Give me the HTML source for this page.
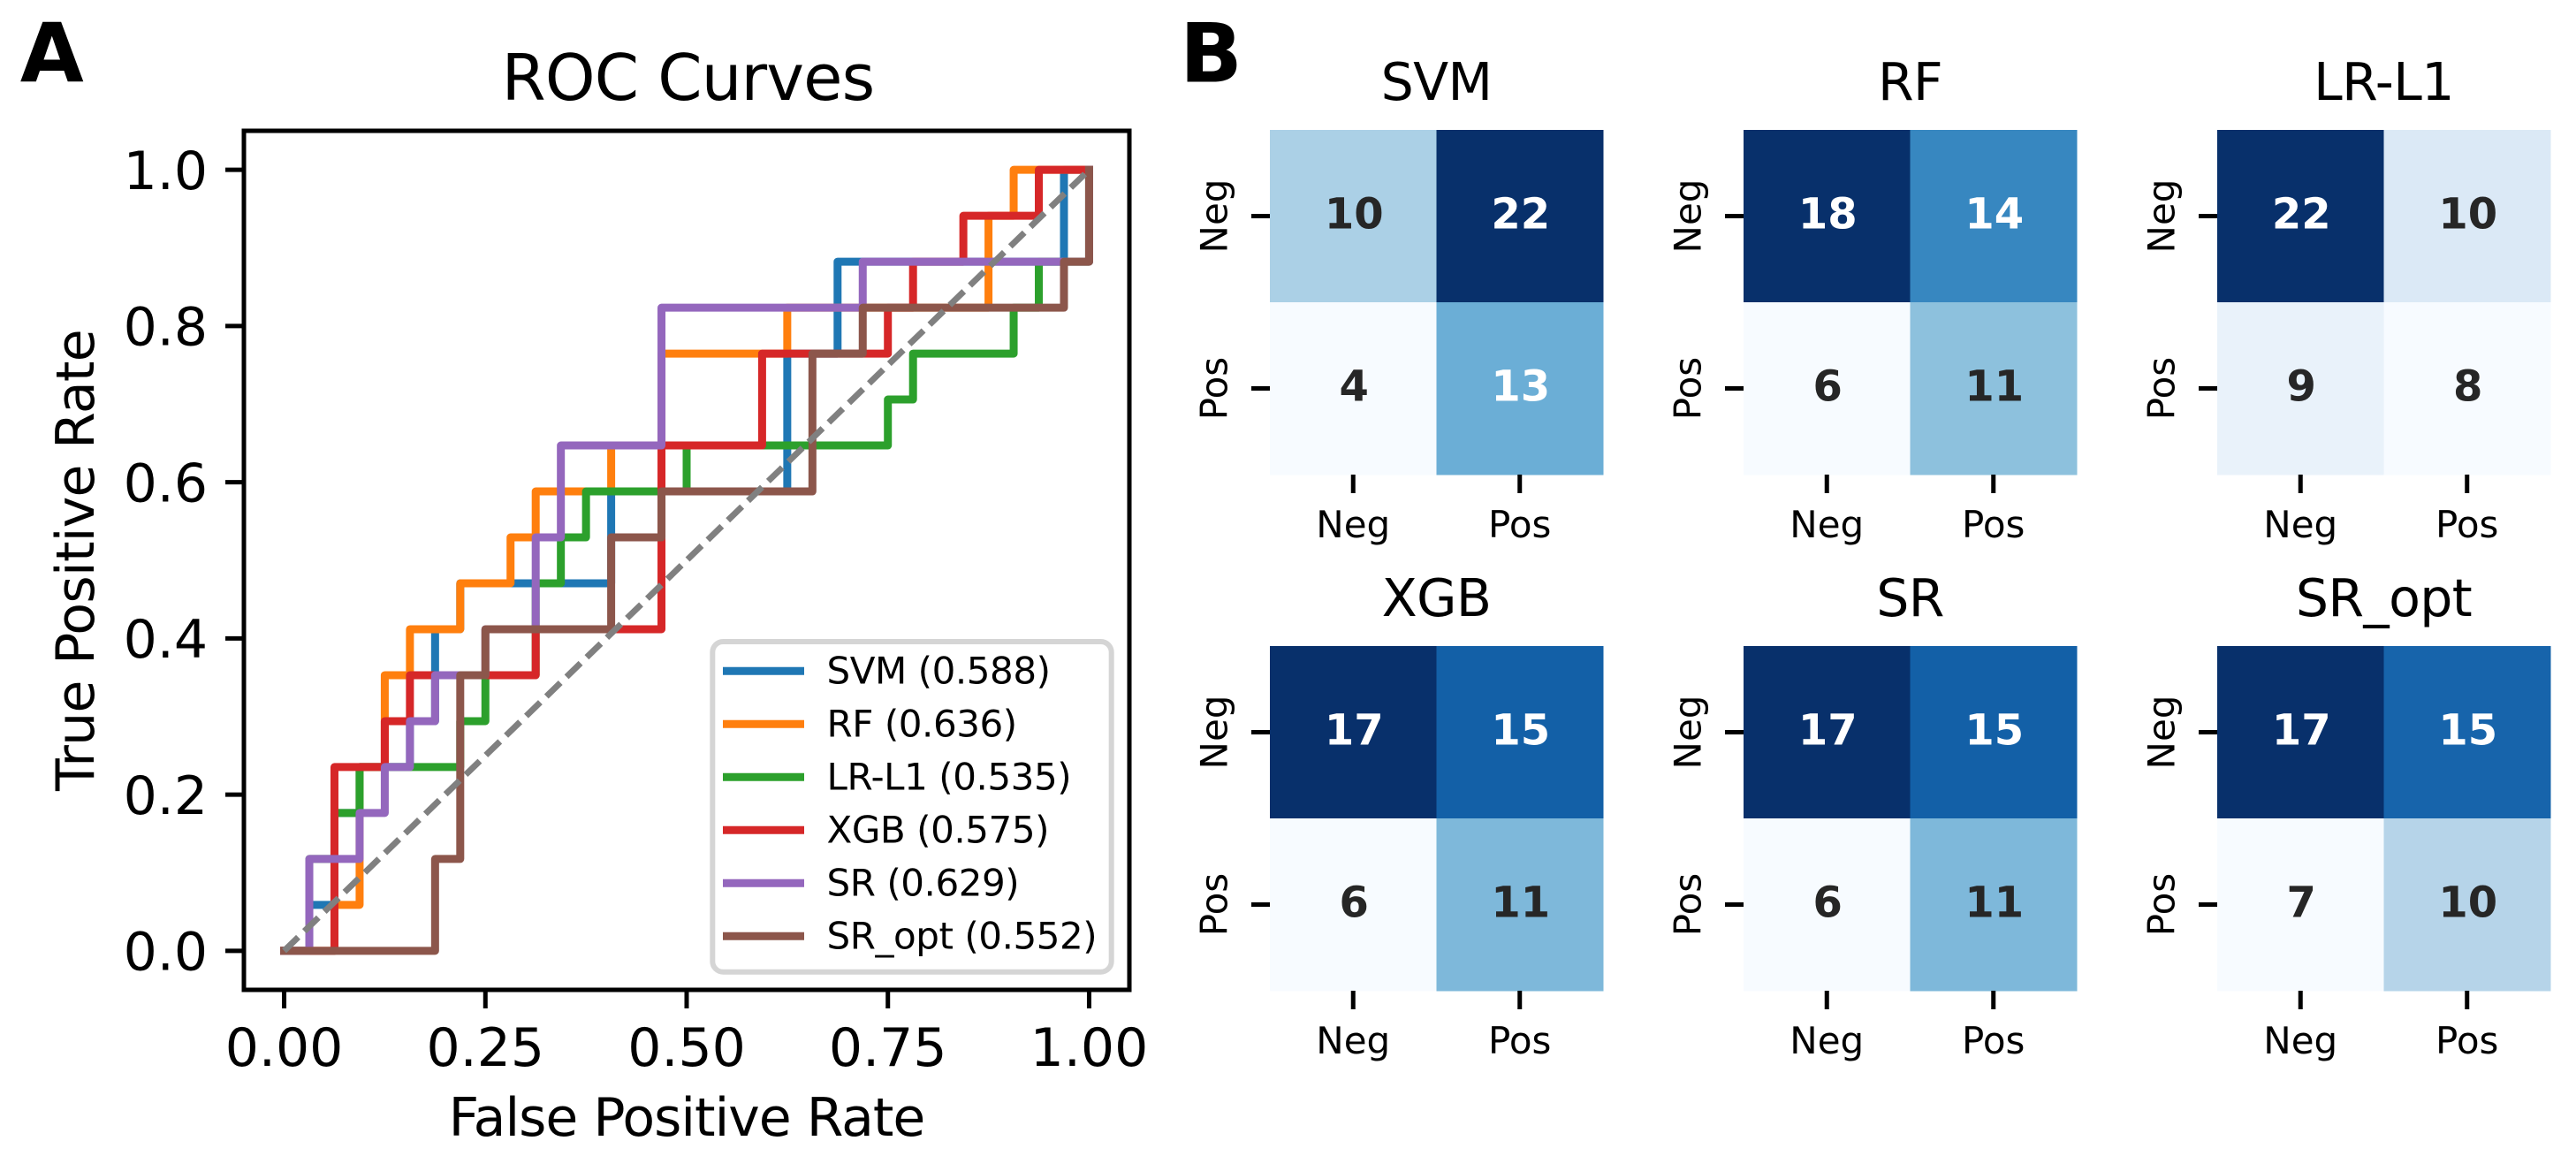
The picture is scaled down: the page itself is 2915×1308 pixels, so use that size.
<!DOCTYPE html>
<html lang="en">
<head>
<meta charset="utf-8">
<title>ROC Curves and Confusion Matrices</title>
<style>
  html, body { margin: 0; padding: 0; background: #ffffff; }
  svg { display: block; }
  text { font-family: "DejaVu Sans", "Liberation Sans", sans-serif; fill: #000000; }
</style>
</head>
<body>
<svg id="figure" xmlns="http://www.w3.org/2000/svg" width="2915" height="1308" viewBox="0 0 2915 1308">
  <rect x="0" y="0" width="2915" height="1308" fill="#ffffff"/>
  <text x="22.7" y="92.5" font-size="93" font-weight="700">A</text>
  <text x="1335" y="92.5" font-size="93" font-weight="700">B</text>
  <g id="roc-panel">
    <text x="778.5" y="113" font-size="72" letter-spacing="-0.8" text-anchor="middle">ROC Curves</text>
    <text x="777" y="1285" font-size="60" letter-spacing="-1" text-anchor="middle">False Positive Rate</text>
    <text x="106" y="634" font-size="60" letter-spacing="-0.7" text-anchor="middle" transform="rotate(-90 106 634)">True Positive Rate</text>
  </g>
  <g id="heatmap-panel"></g>
</svg>
<script>
// ROC chart data: false positive rate / true positive rate vertices per model
const rocModelNames = ['SVM', 'RF', 'LR-L1', 'XGB', 'SR', 'SR_opt'];
const rocAucValues = [0.588, 0.636, 0.535, 0.575, 0.629, 0.552];
const xTickLabels = ['0.00', '0.25', '0.50', '0.75', '1.00'];
const yTickLabels = ['0.0', '0.2', '0.4', '0.6', '0.8', '1.0'];

const svmFpr = [0, 0.03125, 0.03125, 0.0625, 0.0625, 0.09375, 0.09375, 0.15625, 0.15625, 0.1875, 0.1875, 0.21875, 0.21875, 0.40625, 0.40625, 0.625, 0.625, 0.6875, 0.6875, 0.96875, 0.96875, 1];
const svmTpr = [0, 0, 0.0588, 0.0588, 0.1765, 0.1765, 0.2353, 0.2353, 0.2941, 0.2941, 0.4118, 0.4118, 0.4706, 0.4706, 0.5882, 0.5882, 0.7647, 0.7647, 0.8824, 0.8824, 1, 1];

const rfFpr = [0, 0.0625, 0.0625, 0.09375, 0.09375, 0.125, 0.125, 0.15625, 0.15625, 0.21875, 0.21875, 0.28125, 0.28125, 0.3125, 0.3125, 0.40625, 0.40625, 0.46875, 0.46875, 0.625, 0.625, 0.875, 0.875, 0.90625, 0.90625, 1];
const rfTpr = [0, 0, 0.0588, 0.0588, 0.2353, 0.2353, 0.3529, 0.3529, 0.4118, 0.4118, 0.4706, 0.4706, 0.5294, 0.5294, 0.5882, 0.5882, 0.6471, 0.6471, 0.7647, 0.7647, 0.8235, 0.8235, 0.9412, 0.9412, 1, 1];

const lrFpr = [0, 0.03125, 0.03125, 0.0625, 0.0625, 0.09375, 0.09375, 0.21875, 0.21875, 0.25, 0.25, 0.3125, 0.3125, 0.34375, 0.34375, 0.375, 0.375, 0.5, 0.5, 0.75, 0.75, 0.78125, 0.78125, 0.90625, 0.90625, 0.9375, 0.9375, 1, 1];
const lrTpr = [0, 0, 0.1176, 0.1176, 0.1765, 0.1765, 0.2353, 0.2353, 0.2941, 0.2941, 0.3529, 0.3529, 0.4706, 0.4706, 0.5294, 0.5294, 0.5882, 0.5882, 0.6471, 0.6471, 0.7059, 0.7059, 0.7647, 0.7647, 0.8235, 0.8235, 0.8824, 0.8824, 1];

const xgbFpr = [0, 0.0625, 0.0625, 0.125, 0.125, 0.15625, 0.15625, 0.3125, 0.3125, 0.46875, 0.46875, 0.59375, 0.59375, 0.75, 0.75, 0.78125, 0.78125, 0.84375, 0.84375, 0.9375, 0.9375, 1];
const xgbTpr = [0, 0, 0.2353, 0.2353, 0.2941, 0.2941, 0.3529, 0.3529, 0.4118, 0.4118, 0.6471, 0.6471, 0.7647, 0.7647, 0.8235, 0.8235, 0.8824, 0.8824, 0.9412, 0.9412, 1, 1];

const srFpr = [0, 0.03125, 0.03125, 0.09375, 0.09375, 0.125, 0.125, 0.15625, 0.15625, 0.1875, 0.1875, 0.25, 0.25, 0.3125, 0.3125, 0.34375, 0.34375, 0.46875, 0.46875, 0.71875, 0.71875, 1, 1];
const srTpr = [0, 0, 0.1176, 0.1176, 0.1765, 0.1765, 0.2353, 0.2353, 0.2941, 0.2941, 0.3529, 0.3529, 0.4118, 0.4118, 0.5294, 0.5294, 0.6471, 0.6471, 0.8235, 0.8235, 0.8824, 0.8824, 1];

const srOptFpr = [0, 0.1875, 0.1875, 0.21875, 0.21875, 0.25, 0.25, 0.40625, 0.40625, 0.46875, 0.46875, 0.65625, 0.65625, 0.71875, 0.71875, 0.96875, 0.96875, 1, 1];
const srOptTpr = [0, 0, 0.1176, 0.1176, 0.3529, 0.3529, 0.4118, 0.4118, 0.5294, 0.5294, 0.5882, 0.5882, 0.7647, 0.7647, 0.8235, 0.8235, 0.8824, 0.8824, 1];

const chanceFpr = [0, 1];
const chanceTpr = [0, 1];

// Confusion matrix data (row = actual, column = predicted)
const classLabels = ['Neg', 'Pos'];
const svmMatrix = [[10, 22], [4, 13]];
const rfMatrix = [[18, 14], [6, 11]];
const lrMatrix = [[22, 10], [9, 8]];
const xgbMatrix = [[17, 15], [6, 11]];
const srMatrix = [[17, 15], [6, 11]];
const srOptMatrix = [[17, 15], [7, 10]];

const SVG_NS = 'http://www.w3.org/2000/svg';
const rocFprSeries = [svmFpr, rfFpr, lrFpr, xgbFpr, srFpr, srOptFpr];
const rocTprSeries = [svmTpr, rfTpr, lrTpr, xgbTpr, srTpr, srOptTpr];
const rocColors = ['#1f77b4', '#ff7f0e', '#2ca02c', '#d62728', '#9467bd', '#8c564b'];
const heatmapMatrices = [svmMatrix, rfMatrix, lrMatrix, xgbMatrix, srMatrix, srOptMatrix];
const blueStops = [[247,251,255],[222,235,247],[198,219,239],[158,202,225],[107,174,214],[66,146,198],[33,113,181],[8,81,156],[8,48,107]];

function slug(s) { return s.toLowerCase().replace(/[^a-z0-9]+/g, '-'); }

function make(tag, attrs, parent, content) {
  const el = document.createElementNS(SVG_NS, tag);
  Object.keys(attrs).forEach(function (k) { el.setAttribute(k, attrs[k]); });
  if (content !== undefined) el.textContent = content;
  parent.appendChild(el);
  return el;
}

// ---------- ROC chart ----------
const axLeft = 276, axRight = 1278, axTop = 148, axBottom = 1120;
const xPad = (axRight - axLeft) / 22, yPad = (axBottom - axTop) / 22;
function xScale(v) { return axLeft + xPad + v * (axRight - axLeft - 2 * xPad); }
function yScale(v) { return axBottom - yPad - v * (axBottom - axTop - 2 * yPad); }
function linePath(xs, ys) {
  return xs.map(function (x, i) { return (i ? 'L' : 'M') + xScale(x).toFixed(2) + ' ' + yScale(ys[i]).toFixed(2); }).join(' ');
}

const rocPanel = document.getElementById('roc-panel');

rocModelNames.forEach(function (name, i) {
  const curve = make('path', { d: linePath(rocFprSeries[i], rocTprSeries[i]), fill: 'none', stroke: rocColors[i], 'stroke-width': 9, 'stroke-linejoin': 'round', 'stroke-linecap': 'square' }, rocPanel);
  
  
});

const chanceLine = make('path', { d: linePath(chanceFpr, chanceTpr), fill: 'none', stroke: '#808080', 'stroke-width': 7, 'stroke-dasharray': '22.2 9.6' }, rocPanel);



const frame = make('rect', { x: axLeft, y: axTop, width: axRight - axLeft, height: axBottom - axTop, fill: 'none', stroke: '#000000', 'stroke-width': 5 }, rocPanel);



xTickLabels.forEach(function (label) {
  const px = xScale(parseFloat(label));
  const tick = make('line', { x1: px, x2: px, y1: axBottom, y2: axBottom + 21, stroke: '#000000', 'stroke-width': 5 }, rocPanel);
  
  
  const txt = make('text', { x: px, y: 1206, 'font-size': 60, 'text-anchor': 'middle' }, rocPanel, label);
  
  
});

yTickLabels.forEach(function (label) {
  const py = yScale(parseFloat(label));
  const tick = make('line', { x1: axLeft - 21, x2: axLeft, y1: py, y2: py, stroke: '#000000', 'stroke-width': 5 }, rocPanel);
  
  
  const txt = make('text', { x: 235, y: py + 21.7, 'font-size': 60, 'text-anchor': 'end' }, rocPanel, label);
  
  
});

const legendGroup = make('g', {}, rocPanel);


const legendBox = make('rect', { x: 806.3, y: 726, width: 451.4, height: 373.7, rx: 12, ry: 12, fill: '#ffffff', 'fill-opacity': 0.8, stroke: '#d5d5d5', 'stroke-width': 6 }, legendGroup);


rocModelNames.forEach(function (name, i) {
  const rowY = 759.3 + i * 60;
  const swatch = make('line', { x1: 818, x2: 910, y1: rowY, y2: rowY, stroke: rocColors[i], 'stroke-width': 9 }, legendGroup);
  
  
  const entry = make('text', { x: 935.5, y: rowY + 14, 'font-size': 42, 'letter-spacing': -0.45 }, legendGroup, name + ' (' + rocAucValues[i].toFixed(3) + ')');
  
  
});

// ---------- Confusion matrix heatmaps ----------
const heatmapPanel = document.getElementById('heatmap-panel');
const hmLefts = [1437, 1973, 2509];
const hmTops = [147, 731];
const hmWidth = 377, hmHeight = 390;

function bluesColor(t) {
  const pos = Math.max(0, Math.min(1, t)) * 8;
  const lo = Math.min(7, Math.floor(pos));
  const f = pos - lo;
  return blueStops[lo].map(function (c, n) { return Math.round(c + (blueStops[lo + 1][n] - c) * f); });
}
function luminance(rgb) {
  const ch = rgb.map(function (c) { const v = c / 255; return v <= 0.03928 ? v / 12.92 : Math.pow((v + 0.055) / 1.055, 2.4); });
  return 0.2126 * ch[0] + 0.7152 * ch[1] + 0.0722 * ch[2];
}

heatmapMatrices.forEach(function (matrix, m) {
  const name = rocModelNames[m];
  const key = slug(name);
  const left = hmLefts[m % 3];
  const top = hmTops[Math.floor(m / 3)];
  const flat = matrix[0].concat(matrix[1]);
  const vmin = Math.min.apply(null, flat), vmax = Math.max.apply(null, flat);
  const cellW = hmWidth / matrix[0].length, cellH = hmHeight / matrix.length;
  const group = make('g', {}, heatmapPanel);
  
  

  const title = make('text', { x: left + hmWidth / 2, y: top - 34, 'font-size': 58.5, 'letter-spacing': -0.6, 'text-anchor': 'middle' }, group, name);
  
  

  matrix.forEach(function (row, r) {
    row.forEach(function (value, c) {
      const rgb = bluesColor((value - vmin) / (vmax - vmin));
      const cell = make('rect', { x: left + c * cellW, y: top + r * cellH, width: cellW + 0.5, height: cellH + 0.5, fill: 'rgb(' + rgb.join(',') + ')' }, group);
      
      
      const annot = make('text', { x: left + (c + 0.5) * cellW + 1, y: top + (r + 0.5) * cellH + 14, 'font-size': 48, 'font-weight': 700, 'text-anchor': 'middle' }, group, String(value));
      annot.style.fill = luminance(rgb) < 0.408 ? '#ffffff' : '#262626';
      
      
    });
  });

  classLabels.forEach(function (label, i) {
    const cx = left + (i + 0.5) * cellW;
    const cy = top + (i + 0.5) * cellH;
    const bottom = top + hmHeight;
    const xt = make('line', { x1: cx, x2: cx, y1: bottom, y2: bottom + 21, stroke: '#000000', 'stroke-width': 5 }, group);
    
    
    const xl = make('text', { x: cx, y: bottom + 71, 'font-size': 42, 'text-anchor': 'middle' }, group, label);
    
    
    const yt = make('line', { x1: left - 21, x2: left, y1: cy, y2: cy, stroke: '#000000', 'stroke-width': 5 }, group);
    
    
    const yl = make('text', { x: left - 48.5, y: cy, 'font-size': 42, 'text-anchor': 'middle', transform: 'rotate(-90 ' + (left - 48.5) + ' ' + cy + ')' }, group, label);
    
    
  });
});
</script>
</body>
</html>
